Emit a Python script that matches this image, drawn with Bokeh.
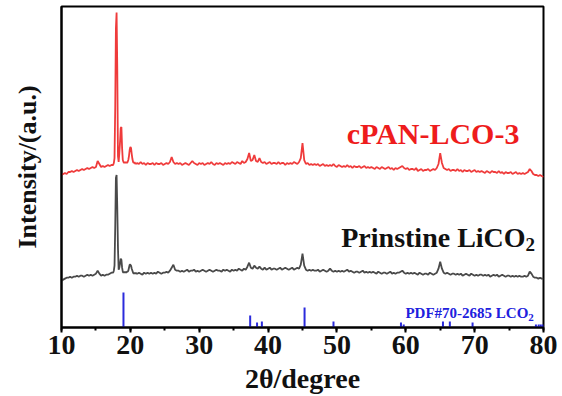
import numpy as np
from bokeh.plotting import figure
from bokeh.models import Range1d, SingleIntervalTicker, FixedTicker
from bokeh.core.properties import value
from bokeh.embed import file_html
from bokeh.resources import INLINE

# ---- data -------------------------------------------------------------
series_names = ["cPAN-LCO-3", "Prinstine LiCO", "PDF#70-2685 LCO"]
x_ticks = [10, 20, 30, 40, 50, 60, 70, 80]

# sampling grid of 2theta (three segments)
two_theta_a = np.arange(40, 70) / 4        # 10.00 .. 17.25
two_theta_b = np.arange(175, 210) / 10     # 17.5 .. 20.9
two_theta_c = np.arange(84, 321) / 4       # 21.00 .. 80.00

red_a = [153, 154, 155, 154, 156, 156, 157, 156, 157, 158,
         157, 158, 159, 158, 159, 160, 159, 160, 161, 160,
         161, 167, 164, 161, 162, 161, 162, 163, 162, 163]
red_b = [163, 165, 170, 220, 300, 316, 260, 172, 166, 175,
         186, 200, 201, 180, 168, 166, 165, 166, 165, 166,
         165, 166, 168, 172, 178, 181, 180, 174, 169, 166,
         165, 166, 164, 165, 164]
red_c = [165, 164, 166, 164, 165, 163, 165, 164,   # 21
         164, 165, 163, 165, 164, 164, 165, 163,   # 23
         164, 165, 164, 166, 171, 166, 164, 165,   # 25
         164, 165, 163, 164, 165, 164, 163, 165,   # 27
         167, 165, 164, 163, 165, 164, 165, 163,   # 29
         164, 165, 164, 166, 164, 163, 165, 164,   # 31
         165, 164, 163, 165, 164, 165, 164, 166,   # 33
         165, 164, 166, 165, 164, 167, 165, 166,   # 35
         169, 175, 167, 168, 173, 167, 166, 170,   # 37
         166, 165, 166, 164, 165, 166, 164, 165,   # 39
         165, 164, 166, 164, 165, 165, 163, 165,   # 41
         164, 165, 164, 166, 165, 164, 166, 170,   # 43
         185, 168, 164, 165, 163, 164, 163, 164,   # 45
         163, 164, 162, 163, 164, 162, 163, 162,   # 47
         163, 162, 164, 162, 161, 163, 162, 161,   # 49
         162, 161, 163, 161, 162, 160, 162, 161,   # 51
         161, 162, 160, 161, 162, 160, 161, 160,   # 53
         161, 160, 159, 161, 160, 159, 161, 160,   # 55
         159, 160, 161, 159, 160, 158, 160, 159,   # 57
         160, 161, 162, 160, 159, 160, 158, 159,   # 59
         159, 158, 160, 157, 158, 159, 157, 158,   # 61
         158, 159, 157, 158, 159, 158, 160, 164,   # 63
         175, 165, 160, 159, 158, 159, 157, 158,   # 65
         158, 157, 159, 157, 158, 156, 158, 157,   # 67
         157, 158, 156, 157, 158, 156, 157, 156,   # 69
         157, 156, 155, 157, 156, 155, 157, 156,   # 71
         156, 155, 157, 155, 156, 154, 156, 155,   # 73
         155, 156, 154, 155, 156, 154, 155, 154,   # 75
         155, 154, 155, 156, 159, 157, 154, 153,   # 77
         153, 152, 153, 152, 151]                  # 79

gray_a = [47, 48, 49, 50, 50, 51, 50, 51, 51, 52,
          51, 52, 52, 51, 52, 53, 52, 53, 52, 53,
          54, 57, 54, 52, 53, 52, 53, 53, 54, 55]
gray_b = [55, 57, 62, 100, 150, 153, 120, 80, 58, 60,
          64, 69, 68, 60, 56, 55, 56, 55, 56, 55,
          56, 56, 57, 60, 63, 63, 62, 59, 57, 55,
          54, 55, 54, 55, 54]
gray_c = [54, 55, 54, 53, 55, 54, 55, 54,   # 21
          55, 54, 55, 54, 56, 55, 54, 55,   # 23
          55, 56, 55, 57, 60, 63, 58, 57,   # 25
          57, 56, 57, 56, 57, 58, 56, 57,   # 27
          57, 58, 56, 57, 56, 57, 58, 57,   # 29
          56, 57, 58, 57, 56, 57, 58, 57,   # 31
          57, 56, 58, 57, 58, 57, 56, 58,   # 33
          57, 58, 57, 59, 58, 57, 59, 58,   # 35
          61, 65, 60, 59, 62, 60, 59, 61,   # 37
          59, 58, 60, 58, 59, 60, 58, 59,   # 39
          59, 58, 59, 60, 58, 59, 60, 59,   # 41
          58, 59, 60, 58, 59, 60, 59, 63,   # 43
          74, 62, 58, 57, 58, 57, 58, 57,   # 45
          57, 58, 56, 57, 58, 57, 56, 57,   # 47
          59, 57, 56, 57, 56, 57, 56, 57,   # 49
          56, 57, 58, 56, 57, 56, 55, 56,   # 51
          56, 55, 56, 57, 55, 56, 55, 56,   # 53
          55, 56, 55, 54, 56, 55, 54, 55,   # 55
          55, 54, 55, 56, 54, 55, 54, 55,   # 57
          55, 56, 57, 55, 54, 55, 54, 55,   # 59
          54, 55, 54, 53, 55, 54, 53, 54,   # 61
          54, 53, 55, 54, 53, 54, 55, 59,   # 63
          66, 59, 55, 54, 55, 54, 53, 54,   # 65
          54, 53, 54, 53, 54, 52, 53, 54,   # 67
          53, 52, 54, 53, 52, 53, 52, 53,   # 69
          53, 52, 53, 52, 53, 51, 52, 53,   # 71
          52, 53, 51, 52, 53, 52, 51, 52,   # 73
          52, 51, 52, 51, 52, 51, 52, 51,   # 75
          51, 52, 51, 52, 56, 54, 51, 50,   # 77
          50, 49, 50, 49, 49]               # 79

pdf_pos = [19.0, 37.4, 38.4, 39.1, 45.3, 49.5, 59.3, 59.7, 65.4, 66.4, 69.7, 78.9, 79.3, 79.6, 79.9]
pdf_int = [35, 12, 5, 6, 20, 6, 5, 3, 6, 6, 5, 3, 3, 3, 3]

two_theta = np.concatenate([two_theta_a, two_theta_b, two_theta_c])
red = np.array(red_a + red_b + red_c, dtype=float)
gray = np.array(gray_a + gray_b + gray_c, dtype=float)

# ---- figure -----------------------------------------------------------
FONT = "Liberation Serif"
p = figure(width=562, height=396, output_backend="svg", toolbar_location=None,
           x_range=Range1d(10, 80), y_range=Range1d(0, 322),
           min_border_left=61, min_border_right=19, min_border_top=6,
           min_border_bottom=68)
p.background_fill_color = "white"
p.border_fill_color = "white"
p.outline_line_color = "black"
p.outline_line_width = 2
p.grid.visible = False

p.line(two_theta, red, line_color="#ef3b3b", line_width=1.8)
p.line(two_theta, gray, line_color="#4a4a4a", line_width=1.8)
p.segment(x0=pdf_pos, y0=[0] * len(pdf_pos), x1=pdf_pos, y1=pdf_int,
          line_color="#2b2bdc", line_width=2)

# labels
p.text(x=[76.5], y=[195], text=[series_names[0]], text_font=value(FONT),
       text_font_style="bold", text_font_size="30px", text_color="#ee1c1c",
       text_align="right", text_baseline="alphabetic")
p.text(x=[77.4], y=[90], text=[series_names[1]], text_font=value(FONT),
       text_font_style="bold", text_font_size="28px", text_color="#111111",
       text_align="right", text_baseline="alphabetic")
p.text(x=[77.4], y=[83], text=["2"], text_font=value(FONT),
       text_font_style="bold", text_font_size="19px", text_color="#111111",
       text_align="left", text_baseline="alphabetic")
p.text(x=[77.8], y=[15], text=[series_names[2]], text_font=value(FONT),
       text_font_style="bold", text_font_size="15px", text_color="#2020dd",
       text_align="right", text_baseline="alphabetic")
p.text(x=[77.8], y=[10], text=["2"], text_font=value(FONT),
       text_font_style="bold", text_font_size="11px", text_color="#2020dd",
       text_align="left", text_baseline="alphabetic")

# axes
xa = p.xaxis[0]
xa.ticker = SingleIntervalTicker(interval=10, num_minor_ticks=2)
xa.axis_line_width = 2
xa.major_tick_line_width = 2
xa.minor_tick_line_width = 2
xa.major_tick_out = 5
xa.major_tick_in = 0
xa.minor_tick_out = 3
xa.minor_tick_in = 0
xa.major_label_standoff = 3
xa.major_label_text_font = FONT
xa.major_label_text_font_style = "bold"
xa.major_label_text_font_size = "28px"
xa.major_label_text_color = "#111111"
xa.axis_label = "2θ/degree"
xa.axis_label_text_font = FONT
xa.axis_label_text_font_style = "bold"
xa.axis_label_text_font_size = "28px"
xa.axis_label_text_color = "#111111"
xa.axis_label_standoff = 6

ya = p.yaxis[0]
ya.ticker = FixedTicker(ticks=[])
ya.axis_line_width = 2
ya.major_tick_line_color = None
ya.minor_tick_line_color = None
ya.major_label_text_font_size = "0px"
ya.axis_label = "Intensity/(a.u.)"
ya.axis_label_text_font = FONT
ya.axis_label_text_font_style = "bold"
ya.axis_label_text_font_size = "26px"
ya.axis_label_text_color = "#111111"
ya.axis_label_standoff = 20

open("out.html", "w").write(file_html(p, INLINE))
